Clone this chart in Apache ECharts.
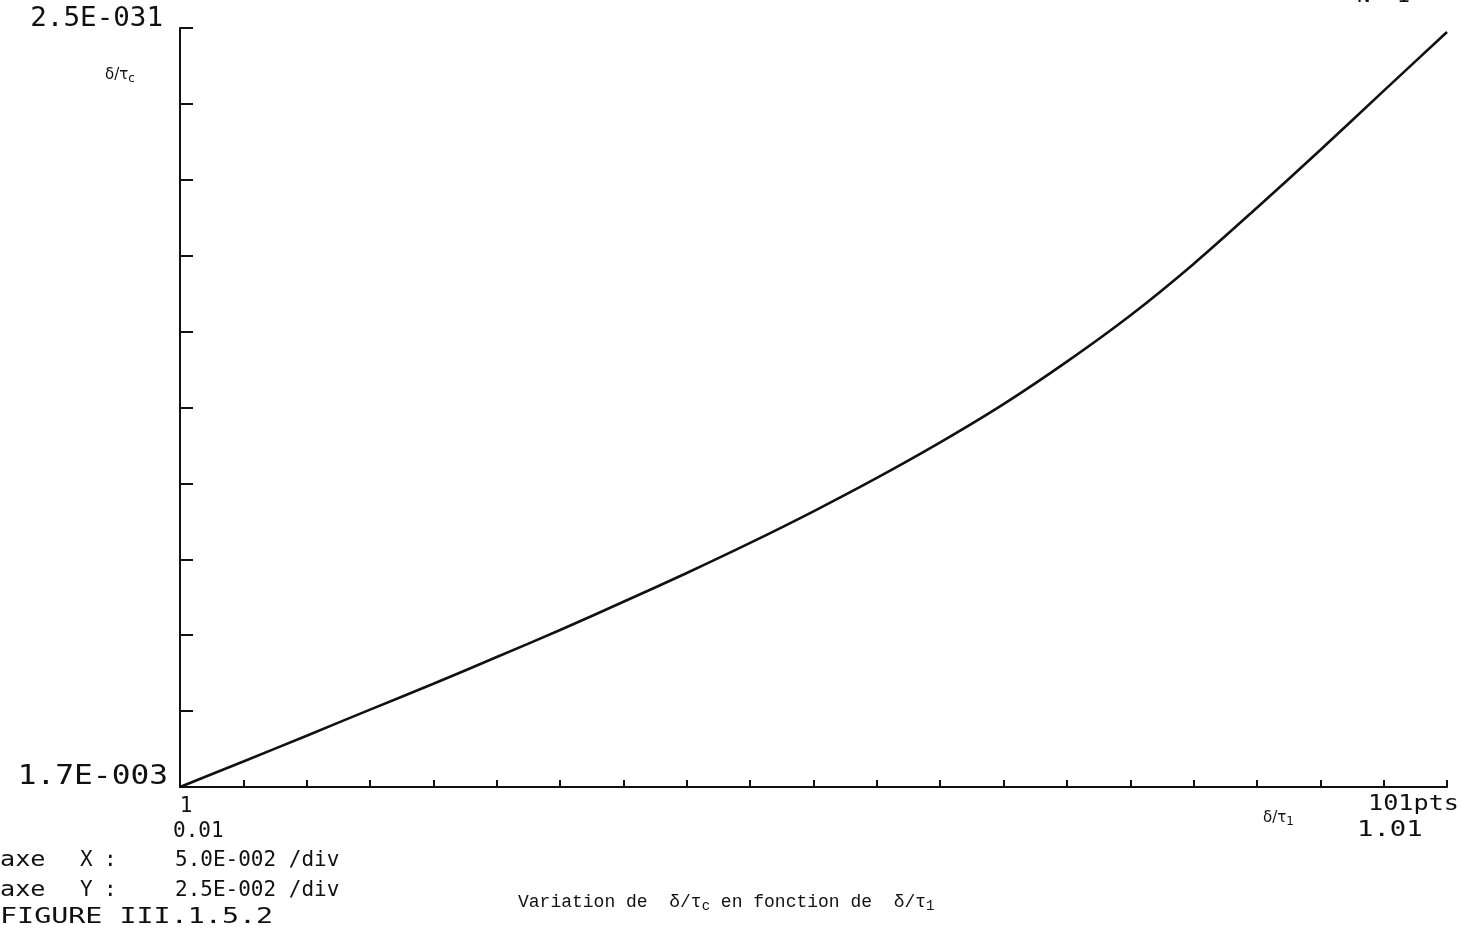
<!DOCTYPE html>
<html>
<head>
<meta charset="utf-8">
<script src="https://cdn.jsdelivr.net/npm/echarts@6/dist/echarts.min.js"></script>
<style>
html,body{margin:0;padding:0;background:#fff;}
#chart{width:1470px;height:938px;}
</style>
</head>
<body>
<div id="chart"></div>
<script>
// ---- data ----
const xValues = [0.01,0.06,0.11,0.16,0.21,0.26,0.31,0.36,0.41,0.46,0.51,0.56,0.61,0.66,0.71,0.76,0.81,0.86,0.91,0.96,1.01];
const yValues = [0.0017,0.0101,0.0186,0.0272,0.0357,0.0445,0.0534,0.0627,0.0722,0.0821,0.0925,0.1035,0.1152,0.1278,0.1418,0.1570,0.1740,0.1925,0.2115,0.2310,0.2504];
const xTicks = [0.01,0.06,0.11,0.16,0.21,0.26,0.31,0.36,0.41,0.46,0.51,0.56,0.61,0.66,0.71,0.76,0.81,0.86,0.91,0.96,1.01];
const yTicks = [0.0017,0.0267,0.0517,0.0767,0.1017,0.1267,0.1517,0.1767,0.2017,0.2267,0.2517];
const yEndLabels = ['1.7E-003','2.5E-031'];
const xEndPoints = ['1','101pts'];
const xEndValues = ['0.01','1.01'];
const axisNotes = [['axe','X',':','5.0E-002 /div'],['axe','Y',':','2.5E-002 /div']];
const figureLabel = 'FIGURE III.1.5.2';
const yAxisName = ['δ/τ','c'];
const xAxisName = ['δ/τ','1'];
const caption = ['Variation de  δ/τ','c',' en fonction de  δ/τ','1'];
const pageMark = 'N° 1';

const xMin = xTicks[0], xMax = xTicks[xTicks.length-1];
const yMin = yTicks[0], yMax = yTicks[yTicks.length-1];

const chart = echarts.init(document.getElementById('chart'), null, {renderer:'canvas'});
const ink = '#111';
const plotFont = '"DejaVu Sans Mono", monospace';

chart.setOption({
  animation:false,
  backgroundColor:'#fff',
  grid:{left:180,right:23,top:28,bottom:151,containLabel:false},
  xAxis:{
    type:'value',min:xMin,max:xMax,
    axisLine:{show:true,onZero:false,lineStyle:{color:ink,width:2}},
    axisTick:{show:true,inside:true,length:7,customValues:xTicks,lineStyle:{color:ink,width:2}},
    axisLabel:{show:false},
    splitLine:{show:false}
  },
  yAxis:{
    type:'value',min:yMin,max:yMax,
    axisLine:{show:true,onZero:false,lineStyle:{color:ink,width:2}},
    axisTick:{show:true,inside:true,length:13,customValues:yTicks,lineStyle:{color:ink,width:2}},
    axisLabel:{show:false},
    splitLine:{show:false}
  },
  series:[{
    type:'line',
    data:xValues.map((x,i)=>[x,yValues[i]]),
    smooth:0.3,
    showSymbol:false,
    lineStyle:{color:ink,width:2.6},
    clip:false
  }]
});

const px = (x,y)=>chart.convertToPixel({gridIndex:0},[x,y]);
const pMin = px(xMin,yMin);
const pMax = px(xMax,yMax);

function txt(text,x,y,size,opts){
  opts = opts||{};
  return {
    type:'text', x:x, y:y, scaleX:opts.scaleX||1, silent:true,
    style:{
      text:text, fill:ink,
      font:(opts.weight||'normal')+' '+size+'px '+(opts.family||plotFont),
      align:opts.align||'left', textAlign:opts.align||'left',
      verticalAlign:opts.valign||'middle', textVerticalAlign:opts.valign||'middle',
      rich:opts.rich
    }
  };
}
function subRich(size,family){
  return {
    n:{fontSize:size,fontFamily:family,color:ink,verticalAlign:'top',lineHeight:size+2},
    s:{fontSize:Math.round(size*0.8),fontFamily:family,color:ink,verticalAlign:'bottom',lineHeight:Math.round(size*0.8),padding:[Math.round(size*0.55),0,0,0]}
  };
}

const graphics = [
  // y end labels
  txt(yEndLabels[1], pMin[0]-17, pMax[1]-9, 26, {align:'right',scaleX:1.06}),
  txt(yEndLabels[0], pMin[0]-12, pMin[1]-10, 26, {align:'right',scaleX:1.2}),
  // x end labels
  txt(xEndPoints[0], pMin[0]+6, pMin[1]+20, 21, {align:'center'}),
  txt(xEndValues[0], pMin[0]-7, pMin[1]+45, 21, {align:'left'}),
  txt(xEndPoints[1], pMax[0]-79, pMin[1]+18, 21, {align:'left',scaleX:1.2}),
  txt(xEndValues[1], pMax[0]-90, pMin[1]+44, 21, {align:'left',scaleX:1.3}),
  // axis names
  txt('{n|'+yAxisName[0]+'}{s|'+yAxisName[1]+'}', 105, 76, 15, {family:'"DejaVu Sans", sans-serif', rich:subRich(15,'DejaVu Sans')}),
  txt('{n|'+xAxisName[0]+'}{s|'+xAxisName[1]+'}', 1263, 819, 15, {family:'"DejaVu Sans", sans-serif', rich:subRich(15,'DejaVu Sans')}),
  // figure label
  txt(figureLabel, 0, 918, 21, {scaleX:1.35}),
  // caption
  txt('{n|'+caption[0]+'}{s|'+caption[1]+'}{n|'+caption[2]+'}{s|'+caption[3]+'}', 518, 903, 18,
      {family:'"Liberation Mono", monospace', rich:subRich(18,'Liberation Mono')}),
  // page mark cut at the top edge
  txt(pageMark, 1357, 7, 22, {valign:'bottom'})
];
axisNotes.forEach((row,i)=>{
  const cy = 861 + i*30;
  graphics.push(txt(row[0], 0, cy, 21, {scaleX:1.2}));
  graphics.push(txt(row[1], 80, cy, 21));
  graphics.push(txt(row[2], 104, cy, 21));
  graphics.push(txt(row[3], 175, cy, 21));
});

chart.setOption({graphic:graphics});
</script>
</body>
</html>
